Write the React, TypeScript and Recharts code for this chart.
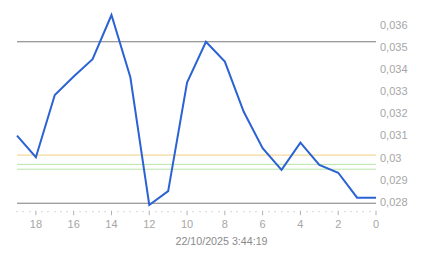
import React from "react";
import { LineChart, Line, XAxis, YAxis, ReferenceLine, Label } from "recharts";

// hours ago (x) and measured value (y)
const hoursAgo = [19, 18, 17, 16, 15, 14, 13, 12, 11, 10, 9, 8, 7, 6, 5, 4, 3, 2, 1, 0];
const values = [
  0.03099, 0.03001, 0.03283, 0.03367, 0.03445, 0.03645, 0.03363, 0.02785, 0.02848, 0.03339,
  0.03524, 0.03434, 0.03207, 0.03042, 0.02944, 0.03067, 0.02966, 0.02931, 0.02818, 0.02818,
];

const yTicks = [0.028, 0.029, 0.03, 0.031, 0.032, 0.033, 0.034, 0.035, 0.036];
const xLabels = [18, 16, 14, 12, 10, 8, 6, 4, 2, 0];
const timestamp = "22/10/2025 3:44:19";

// horizontal limit lines
const upperLimit = 0.03524;
const lowerLimit = 0.02793;
const warnLine = 0.03011;
const okLines = [0.02969, 0.02947];

const data = hoursAgo.map((h, i) => ({ h, v: values[i] }));

// minor ticks every 20 minutes
const xTicks: number[] = [];
for (let k = 0; k <= 57; k++) xTicks.push(k / 3);

const W = 443;
const H = 258;
const FONT = "Arial, 'Liberation Sans', sans-serif";

const XTick = (props: any) => {
  const { x, y, payload } = props;
  const v = payload.value;
  const r = Math.round(v);
  const isMajor = Math.abs(v - r) < 1e-6 && xLabels.includes(r);
  if (!isMajor) {
    return <rect x={Math.round(x) - 0.5} y={y + 4} width={1} height={1} fill="#b0b0b0" />;
  }
  return (
    <g>
      <line x1={x} x2={x} y1={y + 3.5} y2={y + 8} stroke="#b0b0b0" strokeWidth={1} />
      <text x={x} y={y + 17} textAnchor="middle" dominantBaseline="central" fontSize={11} fontFamily={FONT} fill="#a6a6a6">
        {r}
      </text>
    </g>
  );
};

const YTick = (props: any) => {
  const { x, y, payload } = props;
  return (
    <text x={x} y={y} textAnchor="start" dominantBaseline="central" fontSize={11} fontFamily={FONT} fill="#a6a6a6">
      {String(payload.value).replace(".", ",")}
    </text>
  );
};

export default function App() {
  return (
    <div style={{ position: "fixed", left: 0, top: 0, width: W, height: H, background: "#fff" }}>
      <LineChart width={W} height={H} data={data} margin={{ top: 7.3, right: 0, bottom: 0, left: 17 }}>
        <XAxis
          dataKey="h"
          type="number"
          domain={[0, 19]}
          reversed
          ticks={xTicks}
          interval={0}
          axisLine={false}
          tickLine={false}
          tickSize={0}
          tickMargin={0}
          height={50.8}
          tick={<XTick />}
        >
          <Label
            content={(p: any) => {
              const vb = p.viewBox;
              return (
                <text x={W / 2} y={vb.y + 33.5} textAnchor="middle" dominantBaseline="central" fontSize={10.7} fontFamily={FONT} fill="#8a8a8a">
                  {timestamp}
                </text>
              );
            }}
          />
        </XAxis>
        <YAxis
          orientation="right"
          type="number"
          domain={[0.02775, 0.0368]}
          ticks={yTicks}
          interval={0}
          axisLine={false}
          tickLine={false}
          tickSize={0}
          tickMargin={4}
          width={67}
          tick={<YTick />}
        />
        <ReferenceLine y={upperLimit} stroke="#7a7a7a" strokeWidth={1} />
        <ReferenceLine y={lowerLimit} stroke="#7a7a7a" strokeWidth={1} />
        <ReferenceLine y={warnLine} stroke="#f0d080" strokeWidth={1} />
        {okLines.map((v) => (
          <ReferenceLine key={v} y={v} stroke="#b8e4a8" strokeWidth={1} />
        ))}
        <Line type="linear" dataKey="v" stroke="#2b62d4" strokeWidth={2} dot={false} isAnimationActive={false} />
      </LineChart>
    </div>
  );
}
